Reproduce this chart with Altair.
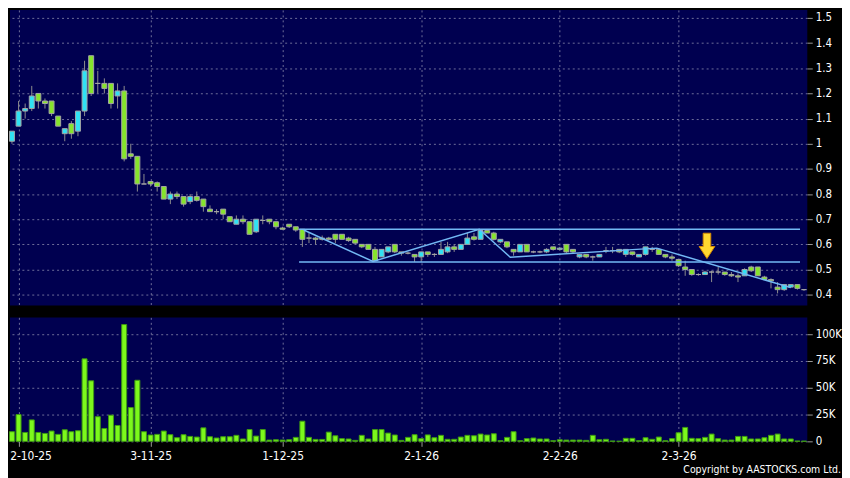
import altair as alt
import pandas as pd

# ---------------- data ----------------
opens = [1.01, 1.07, 1.13, 1.14, 1.20, 1.17, 1.17, 1.11, 1.04, 1.08,
         1.05, 1.13, 1.35, 1.24, 1.24, 1.24, 1.19, 1.21, 0.96, 0.95,
         0.84, 0.85, 0.845, 0.83, 0.78, 0.80, 0.79, 0.77, 0.79, 0.78,
         0.74, 0.73, 0.74, 0.71, 0.68, 0.70, 0.69, 0.65, 0.695, 0.70,
         0.69, 0.665, 0.68, 0.67, 0.66, 0.625, 0.625, 0.625, 0.625, 0.64,
         0.64, 0.625, 0.62, 0.60, 0.60, 0.58, 0.55, 0.57, 0.60, 0.57,
         0.565, 0.56, 0.55, 0.57, 0.56, 0.56, 0.57, 0.59, 0.58, 0.60,
         0.63, 0.62, 0.655, 0.645, 0.61, 0.61, 0.58, 0.57, 0.60, 0.57,
         0.57, 0.57, 0.59, 0.58, 0.60, 0.58, 0.55, 0.56, 0.55, 0.55,
         0.575, 0.575, 0.58, 0.56, 0.57, 0.55, 0.56, 0.58, 0.58, 0.56,
         0.55, 0.54, 0.51, 0.50, 0.48, 0.48, 0.49, 0.49, 0.49, 0.48,
         0.475, 0.475, 0.51, 0.51, 0.47, 0.46, 0.43, 0.42, 0.43, 0.44,
         0.42]
highs = [1.05, 1.17, 1.16, 1.23, 1.20, 1.18, 1.17, 1.11, 1.06, 1.09,
         1.13, 1.33, 1.35, 1.29, 1.26, 1.24, 1.24, 1.23, 1.00, 0.95,
         0.88, 0.85, 0.85, 0.83, 0.81, 0.81, 0.79, 0.80, 0.81, 0.78,
         0.755, 0.74, 0.74, 0.71, 0.715, 0.715, 0.69, 0.70, 0.715, 0.70,
         0.69, 0.67, 0.68, 0.67, 0.66, 0.645, 0.63, 0.635, 0.63, 0.64,
         0.64, 0.63, 0.62, 0.60, 0.60, 0.59, 0.58, 0.59, 0.60, 0.57,
         0.57, 0.56, 0.57, 0.57, 0.565, 0.61, 0.61, 0.60, 0.60, 0.645,
         0.645, 0.66, 0.66, 0.65, 0.62, 0.61, 0.58, 0.60, 0.60, 0.575,
         0.575, 0.585, 0.59, 0.59, 0.60, 0.58, 0.56, 0.56, 0.555, 0.56,
         0.59, 0.59, 0.58, 0.58, 0.57, 0.56, 0.59, 0.59, 0.585, 0.56,
         0.56, 0.54, 0.535, 0.50, 0.485, 0.495, 0.495, 0.51, 0.49, 0.49,
         0.485, 0.505, 0.515, 0.51, 0.475, 0.465, 0.45, 0.44, 0.44, 0.44,
         0.42]
lows = [1.00, 1.07, 1.10, 1.13, 1.14, 1.14, 1.11, 1.07, 1.01, 1.02,
        1.03, 1.11, 1.19, 1.20, 1.20, 1.14, 1.14, 0.93, 0.94, 0.81,
        0.84, 0.83, 0.81, 0.78, 0.76, 0.78, 0.75, 0.76, 0.77, 0.73,
        0.73, 0.72, 0.70, 0.69, 0.68, 0.68, 0.64, 0.645, 0.68, 0.68,
        0.66, 0.66, 0.665, 0.65, 0.59, 0.605, 0.60, 0.615, 0.615, 0.605,
        0.62, 0.61, 0.60, 0.585, 0.58, 0.535, 0.55, 0.565, 0.565, 0.555,
        0.56, 0.53, 0.53, 0.55, 0.55, 0.56, 0.565, 0.57, 0.58, 0.60,
        0.615, 0.62, 0.645, 0.615, 0.605, 0.585, 0.555, 0.57, 0.57, 0.565,
        0.565, 0.565, 0.575, 0.575, 0.565, 0.565, 0.545, 0.545, 0.535, 0.55,
        0.565, 0.565, 0.565, 0.55, 0.555, 0.55, 0.555, 0.57, 0.56, 0.545,
        0.535, 0.51, 0.475, 0.475, 0.475, 0.48, 0.45, 0.48, 0.475, 0.47,
        0.45, 0.475, 0.49, 0.475, 0.46, 0.425, 0.405, 0.415, 0.43, 0.42,
        0.415]
closes = [1.05, 1.13, 1.14, 1.19, 1.17, 1.16, 1.12, 1.07, 1.06, 1.04,
          1.13, 1.29, 1.20, 1.24, 1.22, 1.16, 1.21, 0.94, 0.95, 0.84,
          0.84, 0.84, 0.83, 0.78, 0.80, 0.79, 0.76, 0.79, 0.775, 0.75,
          0.73, 0.73, 0.72, 0.69, 0.70, 0.69, 0.64, 0.70, 0.695, 0.69,
          0.67, 0.66, 0.67, 0.657, 0.62, 0.625, 0.62, 0.62, 0.62, 0.62,
          0.62, 0.615, 0.605, 0.59, 0.58, 0.535, 0.58, 0.59, 0.57, 0.565,
          0.565, 0.55, 0.57, 0.56, 0.56, 0.58, 0.59, 0.58, 0.60, 0.625,
          0.62, 0.655, 0.645, 0.62, 0.62, 0.59, 0.57, 0.60, 0.57, 0.57,
          0.57, 0.58, 0.58, 0.585, 0.57, 0.57, 0.56, 0.55, 0.55, 0.56,
          0.575, 0.575, 0.57, 0.58, 0.56, 0.56, 0.59, 0.58, 0.56, 0.55,
          0.545, 0.515, 0.50, 0.48, 0.48, 0.49, 0.49, 0.49, 0.48, 0.475,
          0.47, 0.50, 0.495, 0.475, 0.46, 0.455, 0.42, 0.44, 0.44, 0.425,
          0.42]
volumes_k = [9, 25, 8.3, 20, 8.3, 7.4, 9.6, 6.5, 10.8, 9,
             9.9, 77, 56.5, 23, 12, 24.4, 14.8, 109, 31.5, 57,
             9, 5.9, 6.5, 9.6, 6.2, 3.4, 6.2, 4.6, 4.0, 12.6,
             4.3, 3.1, 4.3, 4.3, 5.6, 2.2, 11, 4.9, 11, 1.2,
             1.5, 1.2, 1.5, 3.7, 18.8, 3.7, 1.8, 1.8, 8.6, 5.2,
             2.5, 2.2, 0.9, 5.6, 2.2, 11, 11, 7.7, 5.9, 0.9,
             3.7, 6.2, 2.5, 6.0, 3.4, 5.6, 1.9, 1.9, 4.0, 5.6,
             5.2, 6.8, 5.9, 7.1, 0.6, 3.7, 9.0, 0.6, 2.5, 3.1,
             2.2, 2.2, 0.6, 1.5, 1.2, 1.2, 1.2, 0.9, 5.6, 1.5,
             1.9, 0.3, 0.1, 2.8, 2.8, 0.6, 3.4, 1.9, 4.0, 0.6,
             2.5, 8.0, 13, 2.8, 2.5, 3.7, 6.8, 2.5, 1.2, 1.2,
             4.6, 4.6, 2.2, 2.2, 3.4, 5.6, 6.8, 2.2, 2.2, 0.3,
             0.2]

tick_idx = [1, 21, 41, 62, 83, 101]
tick_labels = ["2-10-25", "3-11-25", "1-12-25", "2-1-26", "2-2-26", "2-3-26"]
price_ticks = [0.4, 0.5, 0.6, 0.7, 0.8, 0.9, 1.0, 1.1, 1.2, 1.3, 1.4, 1.5]
vol_ticks = [0, 25, 50, 75, 100]

# drawn trend lines (candle index, price)
channel_x = [43.5, 119.4]
upper_level = 0.66
lower_level = 0.53
zig_x = [44.2, 54.7, 70.8, 75.5, 97.7, 118.0]
zig_y = [0.657, 0.532, 0.66, 0.549, 0.585, 0.428]
arrow_x = [105.3]
arrow_y = [0.594]
copyright_text = "Copyright by AASTOCKS.com Ltd."

# ---------------- tables ----------------
n = len(opens)
idx = list(range(n))
dirs = ["up" if c > o else ("down" if c < o else "flat") for o, c in zip(opens, closes)]
df = pd.DataFrame({"i": idx, "o": opens, "h": highs, "l": lows, "c": closes,
                   "v": volumes_k, "dir": dirs})

lines_df = pd.DataFrame({
    "x": channel_x + channel_x + zig_x,
    "y": [upper_level] * 2 + [lower_level] * 2 + zig_y,
    "g": ["upper"] * 2 + ["lower"] * 2 + ["zig"] * len(zig_x),
})
arrow_df = pd.DataFrame({"x": arrow_x, "y": arrow_y})
copy_df = pd.DataFrame({"t": [copyright_text]})

# ---------------- styling ----------------
W = 804
FONT = "DejaVu Sans Condensed, DejaVu Sans"
GRID = "#6e6e9a"
xs = alt.Scale(domain=[-0.3, 120.5], nice=False, zero=False, padding=0)
ps = alt.Scale(domain=[0.357, 1.532], nice=False, zero=False, padding=0)
vs = alt.Scale(domain=[0, 115.7], nice=False, zero=False, padding=0)

label_expr = " : ".join(
    f"datum.value == {v} ? '{t}'" for v, t in zip(tick_idx, tick_labels)
) + " : ''"
price_label_expr = "format(datum.value, '~g')"

x_price_axis = alt.Axis(values=tick_idx, labels=False, ticks=False, domain=False,
                        grid=True, gridColor=GRID, gridDash=[2, 3], title=None)
x_vol_axis = alt.Axis(values=tick_idx, labelExpr=label_expr, domain=False, grid=True,
                      gridColor=GRID, gridDash=[2, 3], ticks=True, tickSize=5,
                      tickColor="#9a9a9a", labelColor="white", labelFont=FONT,
                      labelFontSize=12, labelPadding=4, title=None,
                      labelFlush=20, labelFlushOffset=9, labelOverlap=False)
y_price_axis = alt.Axis(orient="right", values=price_ticks, labelExpr=price_label_expr,
                        domain=False, grid=True, gridColor=GRID, gridDash=[2, 3],
                        tickSize=5, tickColor="#9a9a9a", labelColor="white",
                        labelFont=FONT, labelFontSize=11.5, labelPadding=3, title=None,
                        labelOverlap=False, tickCount=12)
y_vol_axis = alt.Axis(orient="right", values=vol_ticks,
                      labelExpr="datum.value == 0 ? '0' : datum.value + 'K'",
                      domain=False, grid=True, gridColor=GRID, gridDash=[2, 3],
                      tickSize=5, tickColor="#9a9a9a", labelColor="white",
                      labelFont=FONT, labelFontSize=11.5, labelPadding=3, title=None,
                      labelOverlap=False)

base = alt.Chart(df)

wicks = base.mark_rule(color="#8e8e8e", strokeWidth=1).encode(
    x=alt.X("i:Q", scale=xs, axis=x_price_axis),
    y=alt.Y("l:Q", scale=ps, axis=y_price_axis),
    y2="h:Q",
)
bodies = base.mark_bar(width=5, stroke="#a4a4a4", strokeWidth=1).encode(
    x=alt.X("i:Q", scale=xs, axis=x_price_axis),
    y=alt.Y("o:Q", scale=ps, axis=y_price_axis),
    y2="c:Q",
    fill=alt.Fill("dir:N", scale=alt.Scale(domain=["up", "down", "flat"],
                                           range=["#30e2f4", "#86e42c", "#a0a0a0"]),
                  legend=None),
)
trend = alt.Chart(lines_df).mark_line(color="#72b8f4", strokeWidth=1.5).encode(
    x=alt.X("x:Q", scale=xs, axis=x_price_axis),
    y=alt.Y("y:Q", scale=ps, axis=y_price_axis),
    detail="g:N",
)
arrow_path = "M -0.3 -1 L 0.3 -1 L 0.3 0.05 L 0.62 0.05 L 0 1 L -0.62 0.05 L -0.3 0.05 Z"
arrow = alt.Chart(arrow_df).mark_point(shape=arrow_path, size=650, filled=True,
                                       fill="#ffd730", stroke="#d98c00",
                                       strokeWidth=1, opacity=1).encode(
    x=alt.X("x:Q", scale=xs, axis=x_price_axis),
    y=alt.Y("y:Q", scale=ps, axis=y_price_axis),
)

price = alt.layer(wicks, bodies, trend, arrow).properties(width=W, height=298)

vbars = base.mark_bar(width=5, fill="#7cf81c", stroke="#3e9a12", strokeWidth=1).encode(
    x=alt.X("i:Q", scale=xs, axis=x_vol_axis),
    y=alt.Y("v:Q", scale=vs, axis=y_vol_axis),
)
copy_txt = alt.Chart(copy_df).mark_text(align="right", baseline="alphabetic",
                                        color="white", font=FONT, fontSize=10.5).encode(
    text="t:N", x=alt.value(838), y=alt.value(157),
)
volume = alt.layer(vbars, copy_txt).properties(width=W, height=125)

chart = alt.vconcat(price, volume, spacing=12, bounds="flush").properties(
    background="black",
    padding=0,
).configure_view(fill="#000050", stroke=None)

chart.save("out.html", embed_options={"renderer": "svg", "actions": False})
